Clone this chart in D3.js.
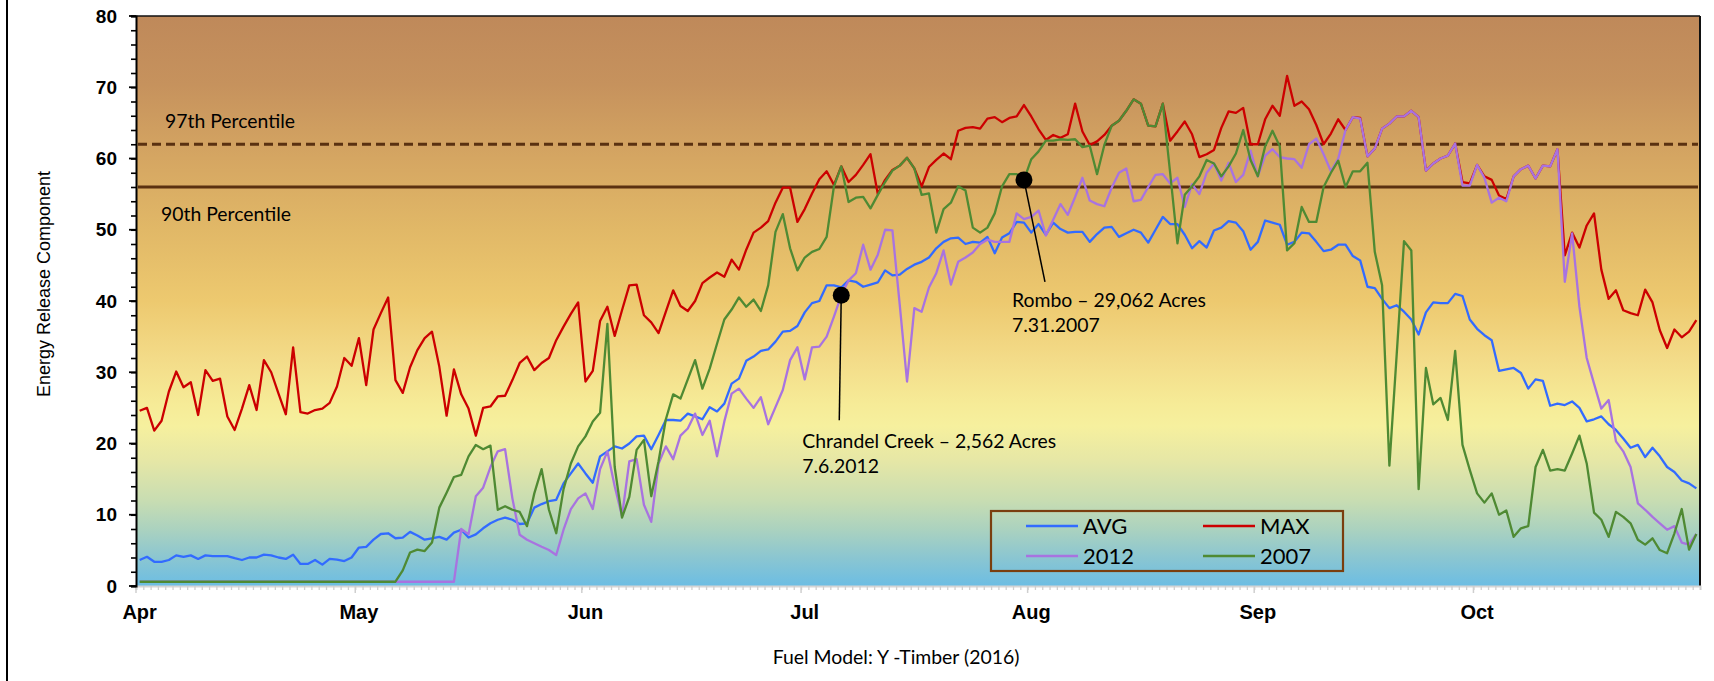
<!DOCTYPE html>
<html><head><meta charset="utf-8">
<script src="https://cdn.jsdelivr.net/npm/d3@7"></script>
<style>body{margin:0;background:#fff;} svg{display:block}</style>
</head><body>
<svg id="c" width="1714" height="681"></svg>
<script>
// ---------------- DATA ----------------
const monthLabels = ["Apr","May","Jun","Jul","Aug","Sep","Oct"];
const yTickValues = [0,10,20,30,40,50,60,70,80];
const seriesNames = ["AVG","MAX","2012","2007"];

const avg = [3.65,4.1,3.4,3.4,3.65,4.3,4.1,4.3,3.8,4.3,4.2,4.2,4.2,3.9,3.65,4.0,4.0,4.4,4.3,4.0,
3.8,4.4,3.1,3.1,3.65,3.0,3.8,3.7,3.5,4.0,5.4,5.5,6.5,7.3,7.4,6.7,6.8,7.6,7.1,6.5,
6.7,6.9,6.5,7.5,7.9,6.8,7.25,8.1,8.8,9.3,9.6,9.3,8.7,8.8,11.0,11.5,11.9,12.1,14.4,15.8,
17.2,15.8,14.5,18.2,18.9,19.6,19.3,20.0,21.0,21.1,19.2,21.2,23.3,23.3,23.2,24.2,23.8,23.4,25.1,24.5,
25.6,28.4,29.1,31.6,32.2,33.0,33.2,34.3,35.7,35.8,36.5,38.4,39.7,40.0,42.2,42.2,41.9,42.9,42.7,42.0,
42.3,42.6,44.3,43.6,43.7,44.5,45.1,45.5,46.1,47.4,48.3,48.8,48.9,48.0,48.3,48.2,49.0,46.7,48.9,49.5,
51.1,51.0,49.6,50.8,49.3,51.0,50.1,49.6,49.7,49.7,48.3,49.4,50.3,50.4,49.0,49.5,50.0,49.6,48.2,50.0,
51.8,50.8,50.8,49.3,47.4,48.4,47.5,49.9,50.3,51.2,51.0,49.8,47.2,48.3,51.3,51.0,50.7,47.9,48.3,49.6,
49.5,48.3,47.0,47.2,47.9,47.9,46.3,45.7,42.0,41.8,40.3,39.0,39.4,38.5,37.4,35.3,38.4,39.8,39.7,39.7,
41.0,40.7,37.4,36.1,35.2,34.5,30.2,30.4,30.6,29.9,27.7,29.0,28.8,25.3,25.6,25.4,25.9,25.0,23.1,23.4,
23.8,22.7,21.9,20.7,19.4,19.8,18.1,19.4,18.2,16.7,16.0,14.8,14.4,13.7];

const max = [24.6,25.0,21.8,23.2,27.3,30.1,27.9,28.6,24.0,30.3,28.8,29.1,23.8,21.9,24.9,28.2,24.7,31.7,30.0,27.0,
24.1,33.5,24.4,24.2,24.7,24.9,25.7,28.0,32.0,30.9,34.8,28.2,36.0,38.3,40.5,28.9,27.1,30.7,33.1,34.8,
35.7,30.8,23.9,30.4,26.9,24.9,21.1,25.0,25.2,26.6,26.7,28.9,31.3,32.2,30.3,31.3,32.0,34.5,36.4,38.2,
39.8,28.7,30.2,37.2,39.2,35.1,38.7,42.2,42.3,38.0,37.0,35.5,38.5,41.5,39.3,38.6,40.0,42.5,43.3,44.0,
43.4,45.8,44.4,47.2,49.6,50.3,51.2,53.8,55.9,55.9,51.1,52.9,55.1,57.1,58.2,56.3,58.9,56.7,57.7,59.1,
60.6,55.0,57.0,58.4,59.0,60.1,58.6,56.1,58.8,59.8,60.7,59.9,63.9,64.3,64.4,64.2,65.6,65.8,65.1,65.7,
65.9,67.5,65.9,64.1,62.6,63.3,62.9,63.4,67.7,63.8,61.9,62.4,63.3,64.6,65.3,66.7,68.3,67.7,64.6,64.5,
67.7,62.5,63.8,65.2,63.4,60.2,60.6,61.2,64.3,66.6,66.4,67.1,62.0,62.0,65.5,67.4,66.0,71.6,67.4,68.0,
66.9,64.7,62.0,63.5,65.5,64.0,65.8,65.7,60.3,61.4,64.2,64.9,65.9,65.9,66.7,65.8,58.3,59.3,60.0,60.4,
62.1,56.7,56.5,59.1,57.5,57.0,54.8,54.3,57.5,58.5,59.0,57.2,59.0,58.9,61.3,46.4,49.6,47.5,50.6,52.3,
44.4,40.3,41.5,38.7,38.3,38.0,41.6,39.8,35.9,33.4,36.0,34.9,35.7,37.3];

const y2012 = [0.6,0.6,0.6,0.6,0.6,0.6,0.6,0.6,0.6,0.6,0.6,0.6,0.6,0.6,0.6,0.6,0.6,0.6,0.6,0.6,
0.6,0.6,0.6,0.6,0.6,0.6,0.6,0.6,0.6,0.6,0.6,0.6,0.6,0.6,0.6,0.6,0.6,0.6,0.6,0.6,
0.6,0.6,0.6,0.6,8.0,7.25,12.6,13.8,16.7,18.9,19.2,12.3,7.2,6.5,6.0,5.5,5.05,4.35,7.9,10.8,
12.3,13.0,10.8,16.4,18.9,14.0,9.8,17.5,17.8,11.4,9.0,17.2,19.6,17.8,21.1,22.1,24.2,21.2,23.2,18.2,
23.1,27.0,27.7,26.3,25.0,26.5,22.7,25.1,27.5,31.7,33.5,29.0,33.5,33.6,35.0,37.8,40.8,42.9,43.9,47.9,
44.4,46.5,50.0,49.9,39.5,28.7,39.0,38.5,41.9,43.9,47.1,42.3,45.5,46.1,46.8,48.0,48.6,48.3,48.3,48.3,
52.3,51.5,51.8,52.7,49.2,51.4,53.6,52.1,54.6,57.3,54.1,53.6,53.3,55.9,58.0,58.6,54.0,54.2,56.0,57.7,
57.8,56.5,57.3,53.2,56.4,55.0,58.0,59.3,56.9,59.4,56.7,57.7,61.1,57.5,60.4,61.3,60.2,60.0,59.9,58.7,
62.0,62.8,60.6,58.2,60.0,64.0,65.8,65.6,60.3,61.4,64.2,64.9,65.9,65.9,66.7,65.8,58.3,59.3,60.0,60.4,
62.1,56.2,56.2,59.1,57.3,53.8,54.5,54.0,57.5,58.5,59.0,57.2,59.0,58.9,61.3,42.7,49.5,39.2,32.0,28.4,
24.9,26.1,20.3,18.9,16.7,11.6,10.7,9.7,8.8,7.9,8.4,6.1,5.8,7.3];

const y2007 = [0.6,0.6,0.6,0.6,0.6,0.6,0.6,0.6,0.6,0.6,0.6,0.6,0.6,0.6,0.6,0.6,0.6,0.6,0.6,0.6,
0.6,0.6,0.6,0.6,0.6,0.6,0.6,0.6,0.6,0.6,0.6,0.6,0.6,0.6,0.6,0.6,2.2,4.7,5.1,4.9,
6.1,11.0,13.1,15.3,15.6,18.2,19.8,19.2,19.7,10.7,11.2,10.7,10.4,8.4,13.0,16.4,10.7,7.4,13.6,17.2,
19.6,21.0,23.1,24.3,36.8,16.7,9.6,12.5,19.1,20.5,12.6,17.5,23.4,26.9,26.3,29.0,31.7,27.7,30.5,34.0,
37.4,38.8,40.5,39.2,40.2,38.6,42.2,49.7,52.2,47.4,44.3,46.1,46.9,47.3,49.0,56.1,58.9,53.9,54.5,54.6,
53.0,54.9,56.7,58.3,59.0,60.1,58.6,54.9,55.1,49.6,52.9,53.8,56.1,55.5,50.3,49.6,50.3,52.3,56.1,57.8,
57.8,57.0,59.9,61.0,62.5,62.5,62.7,62.6,62.7,61.6,61.8,57.8,61.9,64.6,65.3,66.7,68.3,67.7,64.6,64.5,
67.7,58.0,48.1,54.9,56.1,57.5,59.8,59.3,57.5,58.9,60.7,64.0,59.8,57.5,61.7,63.9,61.7,47.1,48.1,53.2,
51.1,51.1,56.0,58.0,59.7,56.0,58.2,58.2,59.4,46.9,42.2,16.9,32.5,48.4,47.1,13.6,30.6,25.5,26.4,23.3,
33.0,19.8,16.3,13.0,11.7,13.0,10.0,10.6,6.9,8.1,8.4,16.7,19.1,16.2,16.4,16.2,18.6,21.1,17.2,10.3,
9.3,6.9,10.4,9.7,8.8,6.5,5.8,6.7,5.05,4.6,7.4,10.8,5.1,7.3];

const percentileValues = [62, 56];
const percentileLabels = ["97th Percentile", "90th Percentile"];
const fireNames = ["Chrandel Creek \u2013 2,562 Acres", "Rombo \u2013 29,062 Acres"];
const fireDates = ["7.6.2012", "7.31.2007"];
const fireDayIndex = [96, 121];   // Jul 6, Jul 31
const fireSeries = ["2012", "2007"];

// ---------------- LAYOUT ----------------
const W = 1714, H = 681;
const L = 136, R = 1700, T = 16, B = 586;
const svg = d3.select("#c");
const start = new Date(Date.UTC(2016,3,1));
const end = new Date(Date.UTC(2016,10,1));
const x = d3.scaleUtc().domain([start, end]).range([L, R]);
const y = d3.scaleLinear().domain([0, 80]).range([B, T]);
const dayDate = i => new Date(Date.UTC(2016,3,1+i,12));

const colors = {"AVG":"#326BFF","MAX":"#CC0000","2012":"#A873E0","2007":"#4F8A33"};
const seriesData = {"AVG":avg,"MAX":max,"2012":y2012,"2007":y2007};

// background gradient
const defs = svg.append("defs");
const grad = defs.append("linearGradient").attr("id","bg").attr("x1",0).attr("y1",0).attr("x2",0).attr("y2",1);
[[0,"#BF895A"],[0.12,"#C6925D"],[0.25,"#D5A662"],[0.375,"#E1B867"],[0.5,"#EDC96F"],[0.6,"#F3DB88"],
 [0.68,"#F6EB97"],[0.72,"#F6F09E"],[0.78,"#E6E7A6"],[0.85,"#C8DDB2"],[0.9,"#ABD2BF"],[0.95,"#8BC6D1"],[1,"#6CBDE3"]]
 .forEach(s => grad.append("stop").attr("offset", s[0]).attr("stop-color", s[1]));

svg.append("rect").attr("x",0).attr("y",0).attr("width",W).attr("height",H).attr("fill","#fff");
svg.append("line").attr("x1",7).attr("x2",7).attr("y1",0).attr("y2",H).attr("stroke","#000").attr("stroke-width",2);
svg.append("rect").attr("x",L).attr("y",T).attr("width",R-L).attr("height",B-T).attr("fill","url(#bg)");

// plot border top / right
svg.append("line").attr("x1",L).attr("x2",R).attr("y1",T).attr("y2",T).attr("stroke","#111").attr("stroke-width",1.5);
svg.append("line").attr("x1",R).attr("x2",R).attr("y1",T).attr("y2",B).attr("stroke","#111").attr("stroke-width",2);

// x axis (light grey) with daily minor ticks
const xAxisG = svg.append("g").attr("transform",`translate(0,${B})`);
xAxisG.call(d3.axisBottom(x).ticks(d3.utcDay.every(1)).tickSize(4).tickFormat(""))
  .call(g => g.select(".domain").attr("stroke","#D6D6D6").attr("stroke-width",2))
  .call(g => g.selectAll(".tick line").attr("stroke","#CFCFCF").attr("stroke-width",1.3));
const monthDates = monthLabels.map((m,i) => new Date(Date.UTC(2016,3+i,1)));
xAxisG.append("g").selectAll("line").data(monthDates).join("line")
  .attr("x1",d=>x(d)).attr("x2",d=>x(d)).attr("y1",0).attr("y2",7).attr("stroke","#CFCFCF").attr("stroke-width",1.5);
svg.append("g").selectAll("text").data(monthLabels).join("text")
  .attr("x",(d,i)=>x(new Date(Date.UTC(2016,3+i,1,12))))
  .attr("y",619).attr("text-anchor","middle")
  .attr("font-family","Liberation Sans, Arial, sans-serif").attr("font-weight","bold").attr("font-size",20)
  .attr("fill","#000").text(d=>d);

// y axis
const yAxisG = svg.append("g").attr("transform",`translate(${L},0)`);
yAxisG.call(d3.axisLeft(y).tickValues(d3.range(0,81,2)).tickSize(5).tickFormat(""))
  .call(g => g.select(".domain").attr("stroke","#000").attr("stroke-width",2))
  .call(g => g.selectAll(".tick line").attr("stroke","#000").attr("stroke-width",1.6));
yAxisG.append("g").selectAll("line").data(yTickValues).join("line")
  .attr("x1",-7).attr("x2",0).attr("y1",d=>y(d)).attr("y2",d=>y(d)).attr("stroke","#000").attr("stroke-width",1.8);
svg.append("g").selectAll("text").data(yTickValues).join("text")
  .attr("x",117).attr("y",d=>y(d)).attr("dy","0.35em").attr("text-anchor","end")
  .attr("font-family","Liberation Sans, Arial, sans-serif").attr("font-weight","bold").attr("font-size",19)
  .text(d=>d);

// axis titles
svg.append("text").attr("transform","translate(50,284) rotate(-90)").attr("text-anchor","middle")
  .attr("font-family","Liberation Sans, Arial, sans-serif").attr("font-size",18).text("Energy Release Component");
svg.append("text").attr("x",896).attr("y",664).attr("text-anchor","middle")
  .attr("font-family","Lato, sans-serif").attr("font-size",19.4).text("Fuel Model: Y -Timber (2016)");

// percentile lines
const pct = svg.append("g");
percentileValues.forEach((v,i) => {
  pct.append("line").attr("x1",L+2).attr("x2",R-2).attr("y1",y(v)).attr("y2",y(v))
    .attr("stroke","#5A3110").attr("stroke-width",2.8)
    .attr("stroke-dasharray", i===0 ? "9,5" : null);
});
svg.append("text").attr("x",165).attr("y",y(percentileValues[0])-16).attr("font-family","Lato, sans-serif").attr("font-size",19.4).text(percentileLabels[0]);
svg.append("text").attr("x",161).attr("y",y(percentileValues[1])+34).attr("font-family","Lato, sans-serif").attr("font-size",19.4).text(percentileLabels[1]);

// series lines
const line = d3.line().x((d,i)=>x(dayDate(i))).y(d=>y(d));
seriesNames.forEach(n => {
  svg.append("path").datum(seriesData[n]).attr("d",line).attr("fill","none")
    .attr("stroke",colors[n]).attr("stroke-width",2.3).attr("stroke-linejoin","round");
});

// fire annotations
const leader = [[-2,125],[21,102]];
const textPos = [[-39,153],[-12,127]];
fireNames.forEach((nm,i) => {
  const cx = x(dayDate(fireDayIndex[i])), cy = y(seriesData[fireSeries[i]][fireDayIndex[i]]);
  svg.append("line").attr("x1",cx).attr("y1",cy).attr("x2",cx+leader[i][0]).attr("y2",cy+leader[i][1])
    .attr("stroke","#000").attr("stroke-width",1.5);
  svg.append("circle").attr("cx",cx).attr("cy",cy).attr("r",8.5).attr("fill","#000");
  const t = svg.append("text").attr("font-family","Lato, sans-serif").attr("font-size",19.4).attr("fill","#000");
  t.append("tspan").attr("x",cx+textPos[i][0]).attr("y",cy+textPos[i][1]).text(nm);
  t.append("tspan").attr("x",cx+textPos[i][0]).attr("y",cy+textPos[i][1]+25).text(fireDates[i]);
});

// legend
const lg = svg.append("g");
lg.append("rect").attr("x",991).attr("y",511).attr("width",352).attr("height",60)
  .attr("fill","none").attr("stroke","#7A3E0E").attr("stroke-width",2.2);
const legendOrder = ["AVG","MAX","2012","2007"];
legendOrder.forEach((n,i) => {
  const col = i%2, row = Math.floor(i/2);
  const lx = col===0 ? 1026 : 1203;
  const ly = row===0 ? 526 : 556;
  lg.append("line").attr("x1",lx).attr("x2",lx+52).attr("y1",ly).attr("y2",ly).attr("stroke",colors[n]).attr("stroke-width",2.3);
  lg.append("text").attr("x",lx+57).attr("y",ly+7.5).attr("font-family","Lato, sans-serif").attr("font-size",22).text(n);
});
</script>
</body></html>
